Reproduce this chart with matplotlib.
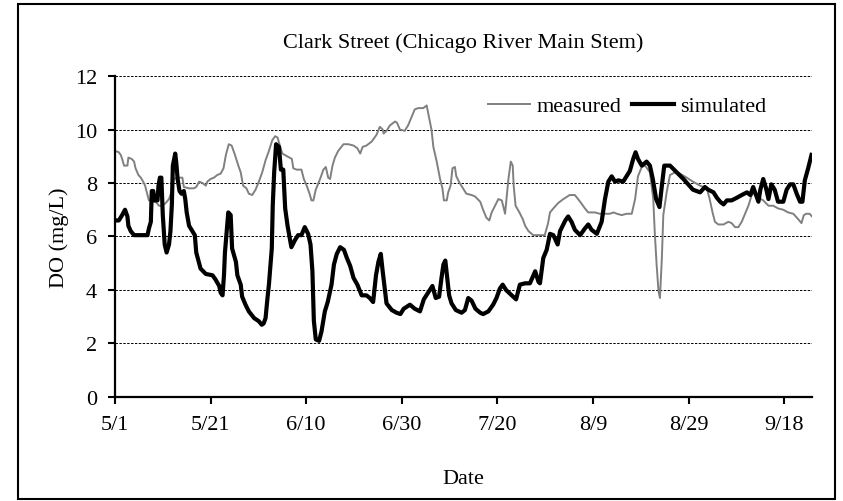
import matplotlib
matplotlib.use('Agg')
import matplotlib.pyplot as plt
import matplotlib.patches as patches
import numpy as np

plt.rcParams['font.family'] = ['Liberation Serif', 'DejaVu Serif']

# days after 5/1
meas_day = [0, 0.8, 1.2, 1.5, 1.9, 2.6, 2.8, 3.5, 4, 4.3, 4.9, 5.4, 5.9, 6.3, 6.8, 7.1, 7.8, 8.5,
            9.2, 9.9, 10.6, 11.3, 11.8, 12.3, 13, 14.1, 14.4, 15.5, 16.5, 17, 17.6, 18.3, 19, 19.3,
            20, 20.7, 21.4, 22.1, 22.7, 23.2, 23.8, 24.4, 25.1, 25.8, 26.3, 26.8, 27.5, 28, 28.7,
            29.4, 30.1, 30.8, 31.5, 32.2, 32.9, 33.5, 34, 34.5, 35, 36, 37, 37.3, 38, 39, 39.5,
            40.1, 40.7, 41.1, 41.5, 42, 42.9, 43.6, 44.1, 44.6, 45, 45.5, 46, 46.7, 47.8, 48.8,
            49.9, 50.7, 51.3, 51.8, 52.6, 53.7, 54.7, 55.4, 56, 56.2, 56.8, 57.5, 58.6, 59, 59.6,
            60.6, 61.3, 62, 62.7, 63.4, 64.5, 65.2, 65.7, 66.2, 66.6, 67.3, 68, 68.5, 68.8, 69.4,
            69.7, 70.2, 70.6, 71.1, 71.4, 72.1, 72.8, 73.5, 74.6, 75.3, 76.4, 77, 77.7, 78.3, 78.8,
            79.5, 80.2, 80.9, 81.2, 81.6, 81.9, 82.3, 82.8, 83.2, 83.4, 83.8, 84.6, 85.3, 85.8,
            86.5, 87.5, 88.9, 89.9, 90.6, 91, 91.7, 92.7, 93.8, 95.1, 96.2, 97.3, 98.3, 99, 100.4,
            101.4, 102.5, 103.5, 104.3, 105, 106, 107, 108.1, 108.8, 109.4, 110.2, 110.9, 111.9,
            112.6, 112.9, 113.3, 113.7, 114, 114.4, 114.7, 115.4, 116.1, 117.2, 118.2, 119.6,
            120.9, 122.4, 123.8, 124.4, 125, 125.5, 126.2, 127.3, 128.3, 129, 129.7, 130.4, 131.1,
            131.8, 132.5, 133.2, 133.9, 134.6, 135.6, 136.7, 137.7, 138.7, 139.8, 140.8, 141.9,
            142.9, 143.6, 144.1, 144.6, 145.3, 145.8]
measured = [9.2, 9.15, 9.05, 8.9, 8.65, 8.65, 8.95, 8.9, 8.8, 8.55, 8.3, 8.2, 8.05, 7.9, 7.55, 7.35,
            7.3, 7.3, 7.15, 7.15, 7.25, 7.4, 7.65, 8.15, 8.2, 8.2, 7.85, 7.8, 7.8, 7.85, 8.05, 8.0,
            7.9, 8.05, 8.15, 8.2, 8.3, 8.35, 8.55, 9.05, 9.45, 9.4, 9.05, 8.65, 8.4, 7.9, 7.8, 7.6,
            7.55, 7.75, 8.05, 8.4, 8.85, 9.2, 9.6, 9.75, 9.7, 9.4, 9.1, 9.0, 8.9, 8.55, 8.5, 8.5,
            8.15, 7.9, 7.6, 7.35, 7.35, 7.75, 8.15, 8.5, 8.6, 8.2, 8.15, 8.65, 8.95, 9.2, 9.45,
            9.45, 9.4, 9.3, 9.1, 9.35, 9.4, 9.55, 9.8, 10.1, 10.0, 9.85, 9.95, 10.15, 10.3, 10.25,
            10.0, 9.95, 10.15, 10.45, 10.75, 10.8, 10.8, 10.9, 10.45, 10.0, 9.35, 8.8, 8.15, 7.8,
            7.35, 7.35, 7.65, 7.9, 8.55, 8.6, 8.25, 8.0, 7.8, 7.6, 7.55, 7.5, 7.3, 7.0, 6.7, 6.6,
            6.9, 7.15, 7.4, 7.35, 7.15, 6.85, 7.4, 8.15, 8.8, 8.65, 7.9, 7.15, 6.9, 6.65, 6.4,
            6.2, 6.05, 6.05, 6.05, 6.5, 6.9, 7.05, 7.25, 7.4, 7.55, 7.55, 7.3, 7.05, 6.9, 6.9,
            6.85, 6.85, 6.85, 6.9, 6.85, 6.8, 6.85, 6.85, 7.4, 8.25, 8.6, 8.65, 8.4, 7.4, 6.2,
            4.95, 3.95, 3.7, 5.2, 6.8, 7.65, 8.3, 8.4, 8.35, 8.2, 8.05, 7.9, 7.8, 7.4, 6.9, 6.55,
            6.45, 6.45, 6.55, 6.5, 6.35, 6.35, 6.55, 6.85, 7.15, 7.55, 7.65, 7.45, 7.35, 7.15,
            7.15, 7.05, 7.0, 6.9, 6.85, 6.65, 6.5, 6.8, 6.85, 6.85, 6.75]

sim_day = [0, 0.8, 1.5, 2.1, 2.6, 2.8, 3.3, 4, 6.8, 7.1, 7.5, 7.7, 8, 8.3, 8.9, 9.1, 9.4, 9.7, 10,
           10.4, 10.8, 11.3, 11.6, 11.9, 12.1, 12.6, 12.8, 13.1, 13.5, 13.9, 14.4, 14.7, 15, 15.5,
           16.2, 16.7, 17, 17.9, 19, 20.4, 21, 21.8, 22.1, 22.5, 22.8, 23, 23.3, 23.7, 24.2, 24.5,
           25.3, 25.6, 26.3, 26.6, 27.3, 28, 29.1, 30.1, 30.7, 31.1, 31.5, 31.9, 32.2, 32.8, 33,
           33.3, 33.7, 34.3, 34.7, 35.2, 35.6, 36.1, 36.6, 36.9, 37.6, 38.3, 39, 39.7, 40.4, 40.9,
           41.3, 41.6, 42, 42.7, 43.2, 43.9, 44.5, 45.3, 45.8, 46.4, 47.1, 47.9, 48.5, 49.2, 49.9,
           50.7, 51.6, 52.6, 53.3, 54, 54.6, 55.1, 55.6, 56, 56.5, 56.8, 57.9, 58.9, 59.7, 60.4,
           61.7, 62.7, 63.8, 64.6, 65.5, 66.4, 67.1, 67.8, 68.3, 68.7, 69.1, 69.5, 69.9, 70.4,
           71.3, 72.5, 73.2, 73.9, 74.6, 75.4, 76.4, 77, 78.1, 79.1, 79.8, 80.5, 81.1, 81.8, 83,
           83.9, 84.7, 85.8, 86.8, 87.9, 88.6, 88.9, 89.6, 90.3, 91, 91.7, 92.6, 93.1, 94.2, 94.8,
           95.5, 96.2, 97.3, 98.3, 99, 99.7, 100.8, 101.8, 102.5, 103.2, 103.9, 104.6, 105.3,
           106.3, 107, 107.7, 108.4, 108.9, 109.4, 110.2, 111.2, 111.9, 112.5, 113.2, 113.9,
           114.4, 114.9, 116.1, 117.5, 118.9, 119.9, 120.9, 122.4, 123.4, 124.1, 125.2, 125.9,
           126.6, 127.3, 128, 129, 130.1, 131.1, 132.2, 132.9, 133.5, 134.1, 134.6, 135, 135.6,
           136.2, 136.7, 137.3, 138, 138.7, 139.8, 140.5, 141.2, 141.9, 142.6, 143.3, 143.8,
           144.3, 145, 145.7]
simulated = [6.6, 6.6, 6.8, 7.0, 6.75, 6.4, 6.2, 6.05, 6.05, 6.3, 6.55, 7.7, 7.7, 7.35, 7.35, 7.9,
             8.2, 8.2, 6.8, 5.7, 5.4, 5.7, 6.2, 7.2, 8.65, 9.1, 8.8, 8.15, 7.7, 7.6, 7.7, 7.4,
             6.9, 6.4, 6.2, 6.05, 5.4, 4.8, 4.6, 4.55, 4.4, 4.15, 3.9, 3.8, 4.55, 5.4, 6.05, 6.9,
             6.8, 5.55, 5.05, 4.55, 4.2, 3.75, 3.45, 3.2, 2.95, 2.83, 2.7, 2.75, 2.95, 3.7, 4.2,
             5.55, 7.15, 8.4, 9.45, 9.35, 8.5, 8.5, 7.05, 6.4, 5.9, 5.6, 5.85, 6.05, 6.05, 6.35,
             6.1, 5.7, 4.7, 2.85, 2.15, 2.1, 2.45, 3.2, 3.55, 4.2, 4.95, 5.35, 5.6, 5.5, 5.2, 4.9,
             4.45, 4.2, 3.8, 3.8, 3.7, 3.55, 4.55, 5.05, 5.35, 4.7, 3.95, 3.5, 3.25, 3.15, 3.1,
             3.3, 3.45, 3.3, 3.2, 3.65, 3.9, 4.15, 3.7, 3.75, 4.45, 4.95, 5.1, 4.45, 3.8, 3.5,
             3.25, 3.15, 3.25, 3.7, 3.6, 3.3, 3.15, 3.1, 3.2, 3.45, 3.7, 4.05, 4.2, 4.0, 3.8,
             3.65, 4.2, 4.25, 4.25, 4.7, 4.3, 4.25, 5.2, 5.5, 6.1, 6.05, 5.7, 6.2, 6.6, 6.75,
             6.55, 6.25, 6.05, 6.3, 6.45, 6.25, 6.1, 6.55, 7.4, 8.05, 8.25, 8.05, 8.1, 8.05,
             8.25, 8.45, 8.9, 9.15, 8.9, 8.65, 8.8, 8.65, 8.15, 7.4, 7.1, 7.9, 8.65, 8.65, 8.4,
             8.15, 7.95, 7.75, 7.65, 7.85, 7.75, 7.65, 7.45, 7.3, 7.2, 7.35, 7.35, 7.45, 7.55,
             7.65, 7.55, 7.85, 7.55, 7.3, 7.75, 8.15, 7.8, 7.4, 7.95, 7.75, 7.3, 7.3, 7.75, 7.95,
             7.95, 7.6, 7.3, 7.3, 8.1, 8.55, 9.05]

tick_days = [0, 20, 40, 60, 80, 100, 120, 140]
tick_labels = ['5/1', '5/21', '6/10', '6/30', '7/20', '8/9', '8/29', '9/18']

fig = plt.figure(figsize=(8.43, 5.02), dpi=100)
ax = fig.add_axes([0.1364, 0.2072, 0.8268, 0.6394])

ax.plot(meas_day, measured, color='#808080', lw=1.4, label='measured')
ax.plot(sim_day, simulated, color='black', lw=3.0, label='simulated')

ax.set_xlim(0, 145.8)
ax.set_ylim(0, 12)
ax.set_yticks(np.arange(0, 13, 2))
ax.set_xticks(tick_days)
ax.set_xticklabels(tick_labels)
ax.yaxis.grid(True, color='black', linestyle=(0, (2.5, 1.5)), linewidth=0.7)
ax.set_axisbelow(True)
for s in ['top', 'right']:
    ax.spines[s].set_visible(False)
for s in ['left', 'bottom']:
    ax.spines[s].set_linewidth(1.6)
ax.tick_params(direction='out', length=5, width=1.5, labelsize=16, pad=8)
ax.tick_params(axis='x', pad=8)

ax.set_ylabel('DO (mg/L)', fontsize=16, labelpad=4)
ax.set_xlabel('Date', fontsize=16, labelpad=25)
ax.set_title('Clark Street (Chicago River Main Stem)', fontsize=16, pad=21)

ax.legend(loc='center right', bbox_to_anchor=(0.935, 0.906), ncol=2, frameon=False, fontsize=16,
          handlelength=1.9, handletextpad=0.3, columnspacing=0.45, borderpad=0, borderaxespad=0)

fig.patches.append(patches.Rectangle((18 / 843, 2 / 502), 817 / 843, 495 / 502, transform=fig.transFigure,
                                     fill=False, edgecolor='black', linewidth=1.5))

fig.savefig('out.png', dpi=100)
